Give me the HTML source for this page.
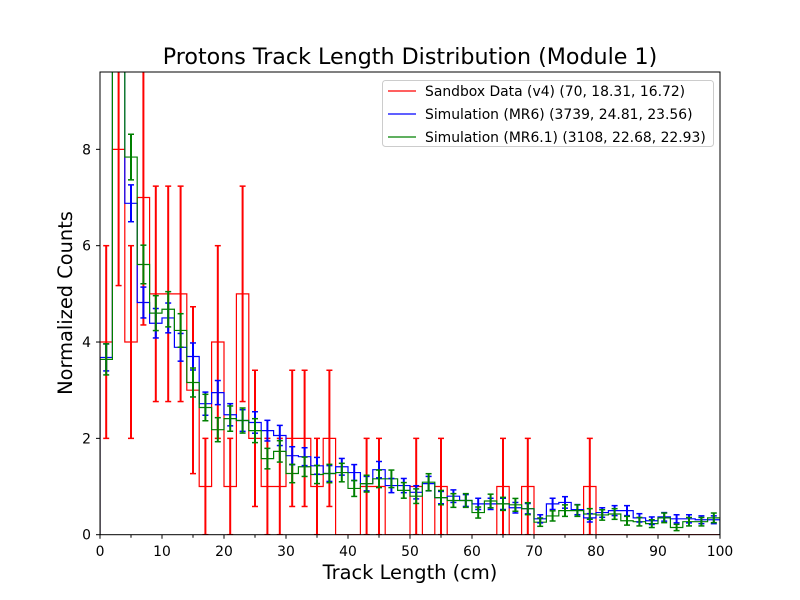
<!DOCTYPE html>
<html><head><meta charset="utf-8"><style>
body{margin:0;background:#fff}
svg{display:block;font-family:"DejaVu Sans","Liberation Sans",sans-serif}
</style></head><body>
<svg id="chart" width="800" height="600" xmlns="http://www.w3.org/2000/svg">
<rect width="800" height="600" fill="#fff"/>
<defs><clipPath id="clip"><rect x="100" y="72" width="620" height="463"/></clipPath></defs>
<text x="410" y="64" font-size="22.2" text-anchor="middle">Protons Track Length Distribution (Module 1)</text>
<g id="marks" clip-path="url(#clip)"></g>
<g id="axes"></g>
<text x="410" y="579" font-size="19.4" text-anchor="middle">Track Length (cm)</text>
<text transform="translate(72,303) rotate(-90)" font-size="19.4" text-anchor="middle">Normalized Counts</text>
<g>
<rect x="382.5" y="80.5" width="331" height="66" rx="3" fill="#fff" fill-opacity="0.8" stroke="#ccc"/>
<line x1="388" y1="91" x2="416" y2="91" stroke="red" stroke-width="1.2"/>
<text x="425" y="96" font-size="13.9">Sandbox Data (v4) (70, 18.31, 16.72)</text>
<line x1="388" y1="114" x2="416" y2="114" stroke="blue" stroke-width="1.2"/>
<text x="425" y="119" font-size="13.9">Simulation (MR6) (3739, 24.81, 23.56)</text>
<line x1="388" y1="137" x2="416" y2="137" stroke="green" stroke-width="1.2"/>
<text x="425" y="142" font-size="13.9">Simulation (MR6.1) (3108, 22.68, 22.93)</text>
</g>
</svg>
<script>
const binEdgesStart = 0;
const binWidth = 2;
const redValues = [4,8,4,7,5,5,5,3,1,4,1,5,2,1,1,2,2,1,2,0,0,1,1,0,0,1,0,1,0,0,0,0,1,0,1,0,0,0,0,1,0,0,0,0,0,0,0,0,0,0];
const blueValues = [3.68,15,6.88,4.82,4.39,4.5,3.89,3.7,2.72,2.95,2.49,2.37,2.33,2.16,2.06,1.64,1.62,1.43,1.27,1.41,1.29,1.06,1.35,1.02,1.02,0.88,1.06,0.77,0.8,0.71,0.64,0.64,0.64,0.56,0.54,0.33,0.64,0.67,0.52,0.35,0.46,0.5,0.5,0.35,0.29,0.37,0.33,0.33,0.31,0.31];
const greenValues = [3.64,13,7.84,5.61,4.6,4.68,4.24,3.16,2.64,2.18,2.41,2.37,2.16,1.58,1.73,1.27,1.41,1.25,1.27,1.29,0.96,1.06,1.16,1.16,0.92,0.8,1.09,0.77,0.71,0.71,0.46,0.7,0.64,0.62,0.54,0.26,0.39,0.5,0.5,0.43,0.41,0.43,0.29,0.27,0.23,0.35,0.15,0.27,0.27,0.35];
const redScale = 1, blueScale = 47, greenScale = 35;
const xTicks = [0,10,20,30,40,50,60,70,80,90,100];
const yTicks = [0,2,4,6,8];

const X0=100,X1=720,Y0=534.7,PPU=48.17;
const sx=v=>X0+(v-0)*(X1-X0)/100;
const sy=v=>Y0-v*PPU;
const NS="http://www.w3.org/2000/svg";
const marks=document.getElementById('marks'), axes=document.getElementById('axes');
function mk(tag,attrs,parent){const e=document.createElementNS(NS,tag);for(const k in attrs)e.setAttribute(k,attrs[k]);parent.appendChild(e);return e;}

function stepPath(vals,color,name){
  let d=`M${sx(binEdgesStart)},${Y0}`;
  vals.forEach((v,i)=>{const a=binEdgesStart+i*binWidth;d+=`L${sx(a)},${sy(v)}L${sx(a+binWidth)},${sy(v)}`;});
  d+=`L${sx(binEdgesStart+vals.length*binWidth)},${Y0}`;
  const p=mk('path',{d:d,fill:'none',stroke:color,'stroke-width':1.2,'stroke-linejoin':'miter'},marks);
  
  
}
stepPath(redValues,'red','sandbox-step-line');
stepPath(blueValues,'blue','mr6-step-line');
stepPath(greenValues,'green','mr61-step-line');
function errBars(vals,scale,color,name){
  vals.forEach((v,i)=>{
    if(v<=0)return;
    const e=Math.sqrt(v/scale);
    const cx=sx(binEdgesStart+(i+0.5)*binWidth);
    const g=mk('g',{stroke:color,'stroke-width':2},marks);
    
    
    mk('line',{x1:cx,x2:cx,y1:sy(v-e),y2:sy(v+e)},g);
    mk('line',{x1:cx-3,x2:cx+3,y1:sy(v-e),y2:sy(v-e),'stroke-width':1.5},g);
    mk('line',{x1:cx-3,x2:cx+3,y1:sy(v+e),y2:sy(v+e),'stroke-width':1.5},g);
  });
}
errBars(redValues,redScale,'red','sandbox-error-bar');
errBars(blueValues,blueScale,'blue','mr6-error-bar');
errBars(greenValues,greenScale,'green','mr61-error-bar');

const fr=mk('rect',{x:100,y:72,width:620,height:462.7,fill:'none',stroke:'#000','stroke-width':1},axes);


for(let v=0;v<=100;v+=5){mk('line',{x1:sx(v),x2:sx(v),y1:Y0,y2:Y0+(v%10?3:4),stroke:'#000'},axes);}
xTicks.forEach(v=>{
  const t=mk('text',{x:sx(v),y:556,'font-size':13.9,'text-anchor':'middle'},axes);t.textContent=v;
  
  
});
yTicks.forEach(v=>{
  mk('line',{x1:96,x2:100,y1:sy(v),y2:sy(v),stroke:'#000'},axes);
  const t=mk('text',{x:91,y:sy(v)+5,'font-size':13.9,'text-anchor':'end'},axes);t.textContent=v;
  
  
});
</script>
</body></html>
